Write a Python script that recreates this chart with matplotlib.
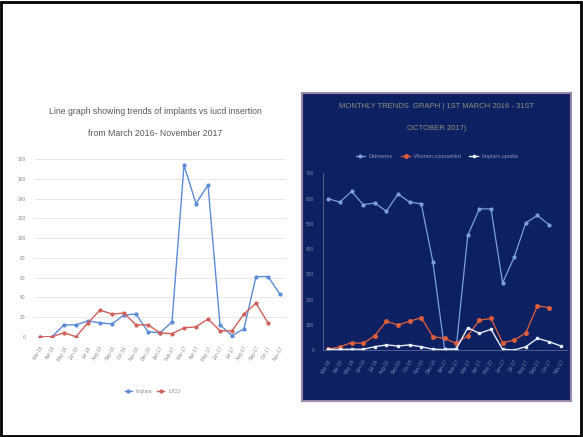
import matplotlib
matplotlib.use("Agg")
import matplotlib.pyplot as plt
import numpy as np
from matplotlib.patches import Rectangle

# ── data ──────────────────────────────────────────────────────────────────────
months = ["Mar-16", "Apr-16", "May-16", "Jun-16", "Jul-16", "Aug-16", "Sep-16",
          "Oct-16", "Nov-16", "Dec-16", "Jan-17", "Feb-17", "Mar-17", "Apr-17",
          "May-17", "Jun-17", "Jul-17", "Aug-17", "Sep-17", "Oct-17", "Nov-17"]

implants = [0, 0, 12, 12, 16, 14, 13, 22, 23, 5, 4, 15, 174, 135, 154, 12, 1, 8, 61, 61, 43]
iucd = [0, 0, 4, 0, 14, 27, 23, 24, 12, 12, 4, 3, 9, 10, 18, 6, 6, 23, 34, 14, np.nan]

deliveries = [599, 586, 628, 576, 582, 550, 618, 586, 579, 349, 5, 5,
              454, 559, 559, 266, 368, 504, 533, 496, np.nan]
counselled = [3, 13, 29, 26, 57, 114, 99, 114, 128, 53, 46, 26,
              57, 118, 125, 29, 39, 68, 175, 168, np.nan]
uptake = [3, 2, 3, 3, 13, 20, 16, 20, 13, 3, 2, 3,
          88, 66, 82, 3, 0, 13, 46, 33, 16]

plt.rcParams["font.family"] = ["Liberation Sans", "DejaVu Sans"]

fig = plt.figure(figsize=(5.83, 4.37), dpi=100)
W, H = 583, 437


def fx(px):
    return px / W


def fy(py):
    return 1 - py / H


# outer black frame
fig.patches.append(Rectangle((0.002, 0.003), 0.994, 0.993, transform=fig.transFigure,
                             fill=False, edgecolor="black", linewidth=2))

# ── left chart: implants vs iucd ──────────────────────────────────────────────
x = np.arange(len(months))
axl = fig.add_axes([fx(34), fy(336.7), fx(252), (336.7 - 159.3) / H])
axl.plot(x, implants, color="#5b8bd6", linewidth=1.0, marker="o", markersize=2, label="Implant")
axl.plot(x, iucd, color="#d0605a", linewidth=1.0, marker="o", markersize=2, label="IUCD")
axl.set_xlim(-0.5, len(months) - 0.5)
axl.set_ylim(0, 180)
axl.set_yticks(range(0, 181, 20))
axl.yaxis.grid(True, color="#e4e4e4", linewidth=0.6)
axl.set_axisbelow(True)
for s in axl.spines.values():
    s.set_visible(False)
axl.tick_params(axis="both", length=0, labelsize=3.5, labelcolor="#8a8a8a", pad=6)
axl.set_xticks(x)
axl.set_xticklabels(months, rotation=60, ha="right", rotation_mode="anchor")
axl.legend(loc="upper center", bbox_to_anchor=(0.47, -0.27), ncol=2, frameon=False,
           fontsize=3.5, handlelength=1.5, labelcolor="#8a8a8a", columnspacing=1)
fig.text(fx(155), fy(112), "Line graph showing trends of implants vs iucd insertion",
         ha="center", va="center", fontsize=6.3, color="#5a5a5a")
fig.text(fx(155), fy(134), "from March 2016- November 2017",
         ha="center", va="center", fontsize=6.3, color="#5a5a5a")

# ── right chart: monthly trends on navy panel ─────────────────────────────────
NAVY = "#0c2062"
panel = fig.add_axes([fx(302), fy(401), fx(269), (401 - 93) / H], zorder=-1)
panel.set_facecolor(NAVY)
panel.set_xticks([])
panel.set_yticks([])
for s in panel.spines.values():
    s.set_color("#9a86a8")
    s.set_linewidth(1.5)

axr = fig.add_axes([fx(322.5), fy(350), fx(244), (350 - 173.3) / H])
axr.patch.set_alpha(0)
axr.plot(x, deliveries, color="#7aa0e0", linewidth=0.9, marker="o", markersize=2, label="Deliveries")
axr.plot(x, counselled, color="#e0603a", linewidth=0.9, marker="o", markersize=2.5,
         label="Women counselled")
axr.plot(x, uptake, color="#e8ecf4", linewidth=1.0, marker="s", markersize=2, label="Implant uptake")
axr.set_xlim(-0.5, len(months) - 0.5)
axr.set_ylim(0, 700)
axr.set_yticks(range(0, 701, 100))
for name, s in axr.spines.items():
    if name in ("left", "bottom"):
        s.set_color("#5a6a9a")
        s.set_linewidth(0.6)
    else:
        s.set_visible(False)
axr.tick_params(axis="both", length=0, labelsize=3.5, labelcolor="#7f88aa", pad=6)
axr.set_xticks(x)
axr.set_xticklabels(months, rotation=60, ha="right", rotation_mode="anchor")
axr.legend(loc="upper center", bbox_to_anchor=(0.47, 1.14), ncol=3, frameon=False,
           fontsize=4, handlelength=1.5, labelcolor="#8a93b8", columnspacing=1.5)
fig.text(fx(437), fy(107), "MONTHLY TRENDS  GRAPH | 1ST MARCH 2016 - 31ST",
         ha="center", va="center", fontsize=5.5, color="#948f78")
fig.text(fx(437), fy(128), "OCTOBER 2017)",
         ha="center", va="center", fontsize=5.5, color="#948f78")

fig.savefig("out.png", dpi=100)
